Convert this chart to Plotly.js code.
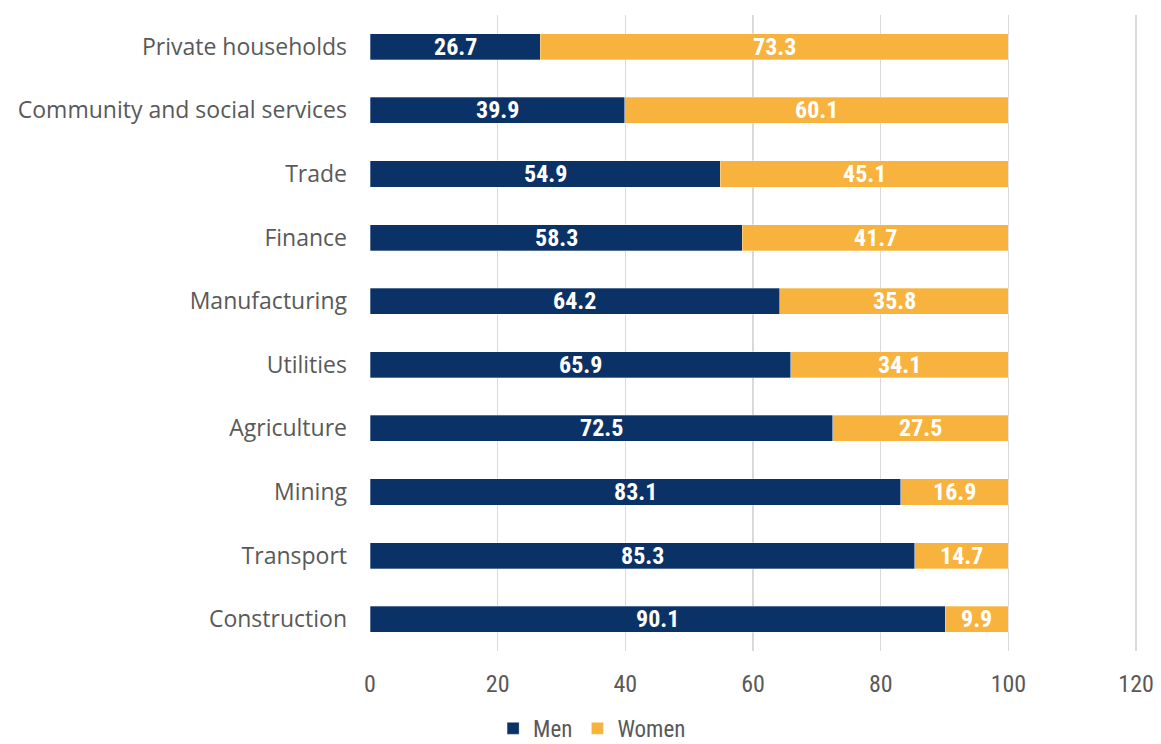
<!DOCTYPE html>
<html>
<head>
<meta charset="utf-8">
<script src="https://cdn.plot.ly/plotly-3.0.1.min.js"></script>
<style>html,body{margin:0;padding:0;background:#fff;}#chart{width:1161px;height:744px;}</style>
</head>
<body>
<div id="chart"></div>
<script>
const categories = ["Private households","Community and social services","Trade","Finance","Manufacturing","Utilities","Agriculture","Mining","Transport","Construction"];
const men = [26.7,39.9,54.9,58.3,64.2,65.9,72.5,83.1,85.3,90.1];
const women = [73.3,60.1,45.1,41.7,35.8,34.1,27.5,16.9,14.7,9.9];
const xTicks = [0,20,40,60,80,100,120];

const narrow = '"Liberation Sans Narrow", "Roboto Condensed", "DejaVu Sans Condensed", Lato, sans-serif';
const cats = categories.slice().reverse();
const menRev = men.slice().reverse();
const womenRev = women.slice().reverse();
const fmt = v => v.toFixed(1);
const line = {width: 0.6, color: 'rgba(255,255,255,0.5)'};
const data = [
  {type: 'bar', orientation: 'h', name: 'Men', y: cats, x: menRev, marker: {color: '#0b3266', line: line}, textposition: 'none'},
  {type: 'bar', orientation: 'h', name: 'Women', y: cats, x: womenRev, marker: {color: '#f7b33d', line: line}, textposition: 'none'}
];
const annotations = [];
cats.forEach((c, i) => {
  annotations.push({x: menRev[i] / 2, y: c, xref: 'x', yref: 'y', text: '<b>' + fmt(menRev[i]) + '</b>', showarrow: false,
    font: {family: narrow, size: 24, color: '#ffffff'}});
  annotations.push({x: menRev[i] + womenRev[i] / 2, y: c, xref: 'x', yref: 'y', text: '<b>' + fmt(womenRev[i]) + '</b>', showarrow: false,
    font: {family: narrow, size: 24, color: '#ffffff'}});
});
const layout = {
  width: 1161, height: 744,
  barmode: 'stack', bargap: 0.59,
  margin: {l: 370, r: 23, t: 15, b: 93},
  paper_bgcolor: '#fff', plot_bgcolor: '#fff',
  font: {family: '"Open Sans", Lato, sans-serif', color: '#595959', size: 21},
  xaxis: {range: [0, 120.3], tickvals: xTicks, ticktext: xTicks.map(String), showgrid: true, gridcolor: '#d9d9d9', gridwidth: 1.5,
          zeroline: false, showline: false, tickfont: {family: narrow, size: 24, color: '#595959'}, ticklabelstandoff: 16, fixedrange: true},
  yaxis: {categoryorder: 'array', categoryarray: cats, showgrid: false, zeroline: false, showline: false,
          tickfont: {family: '"Open Sans", Lato, sans-serif', size: 23, color: '#595959'}, ticklabelstandoff: 22, fixedrange: true},
  showlegend: true,
  legend: {orientation: 'h', xref: 'container', yref: 'container', x: 0.51, xanchor: 'center', y: 0.021, yanchor: 'middle',
           font: {family: narrow, size: 23, color: '#595959'}, itemwidth: 30, traceorder: 'normal'},
  annotations: annotations
};
Plotly.newPlot('chart', data, layout, {displayModeBar: false, staticPlot: true});
</script>
</body>
</html>
